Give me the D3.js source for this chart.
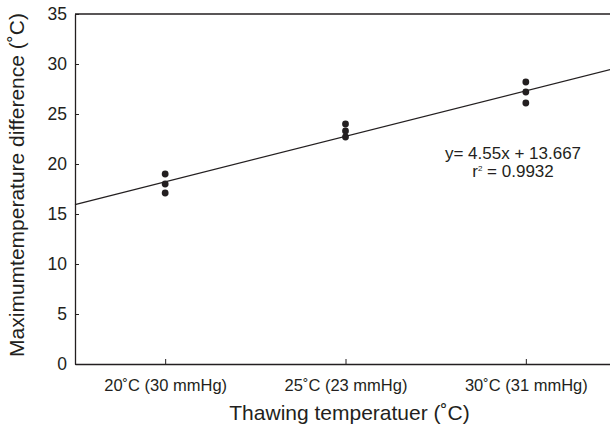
<!DOCTYPE html>
<html><head><meta charset="utf-8">
<script src="https://cdn.jsdelivr.net/npm/d3@7"></script>
<style>body{margin:0;background:#fff}svg{display:block}text{font-family:"Liberation Sans",Arial,sans-serif;fill:#231f20}</style>
</head><body><svg id="c" width="610" height="426"></svg>
<script>
const categories = ["20˚C (30 mmHg)", "25˚C (23 mmHg)", "30˚C (31 mmHg)"];
const groupX = [1, 2, 3];
const replicate1 = [19.0, 24.0, 28.2];
const replicate2 = [18.0, 23.3, 27.2];
const replicate3 = [17.1, 22.7, 26.1];
const yTicks = [0, 5, 10, 15, 20, 25, 30, 35];
const fitSlope = 4.55, fitIntercept = 13.667;
const eqText = "y= 4.55x + 13.667";
const r2Value = "0.9932";

const svg = d3.select("#c");
const L = 75, R = 616, T = 14, B = 364;
const x = d3.scaleLinear().domain([0.5, 3.5]).range([L, R]);
const y = d3.scaleLinear().domain([0, 35]).range([B, T]);
const ink = "#231f20";

// frame (top & right)
svg.append("path").attr("d", `M${L},${T}H${R}V${B}`).attr("fill","none").attr("stroke",ink).attr("stroke-width",1.3);

// y axis
const ya = svg.append("g").attr("transform",`translate(${L},0)`)
  .call(d3.axisLeft(y).tickValues(yTicks).tickSizeInner(-4).tickSizeOuter(0).tickPadding(8));
ya.select(".domain").attr("stroke",ink).attr("stroke-width",1.3);
ya.selectAll(".tick line").attr("stroke",ink).attr("stroke-width",1);
ya.selectAll(".tick text").attr("font-size","17.5px").attr("fill",ink).attr("font-family","Liberation Sans, Arial, sans-serif");

// x axis
const xa = svg.append("g").attr("transform",`translate(0,${B})`)
  .call(d3.axisBottom(x).tickValues(groupX).tickFormat((d,i)=>categories[i]).tickSizeInner(-5).tickSizeOuter(0).tickPadding(15));
xa.select(".domain").attr("stroke",ink).attr("stroke-width",1.3);
xa.selectAll(".tick line").attr("stroke",ink).attr("stroke-width",1);
xa.selectAll(".tick text").attr("font-size","16.5px").attr("fill",ink).attr("font-family","Liberation Sans, Arial, sans-serif");

// regression line
const xd = x.domain();
svg.append("line")
  .attr("x1", x(xd[0])).attr("y1", y(fitSlope*xd[0]+fitIntercept))
  .attr("x2", x(xd[1])).attr("y2", y(fitSlope*xd[1]+fitIntercept))
  .attr("stroke", ink).attr("stroke-width", 1.3);

// points
const pts = [];
[replicate1, replicate2, replicate3].forEach(s => s.forEach((v,i)=>pts.push({x:groupX[i], v})));
svg.append("g").selectAll("circle").data(pts).join("circle")
  .attr("cx", d=>x(d.x)).attr("cy", d=>y(d.v)).attr("r", 3.4).attr("fill", ink);

// equation
svg.append("text").attr("x", 513).attr("y", 159).attr("text-anchor","middle").attr("font-size","17px").text(eqText);
const r2 = svg.append("text").attr("x", 513).attr("y", 177).attr("text-anchor","middle").attr("font-size","17px");
r2.append("tspan").text("r");
r2.append("tspan").attr("font-size","8px").attr("dy",-6).text("2");
r2.append("tspan").attr("dy",6).text(" = " + r2Value);

// axis titles
svg.append("text").attr("x", (L+610)/2+7).attr("y", 420).attr("text-anchor","middle").attr("font-size","21px").text("Thawing temperatuer (˚C)");
svg.append("text").attr("transform","translate(24,185) rotate(-90)").attr("text-anchor","middle").attr("font-size","21px").text("Maximumtemperature difference (˚C)");
</script></body></html>
